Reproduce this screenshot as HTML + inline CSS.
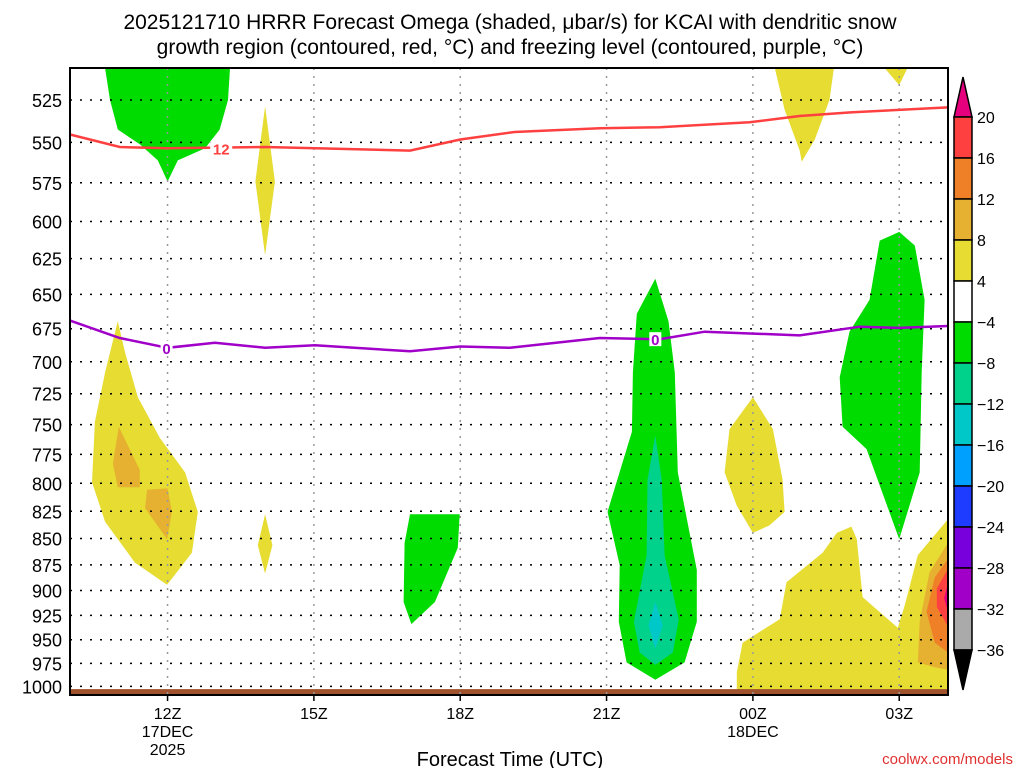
<!DOCTYPE html>
<html><head><meta charset="utf-8"><style>
body{margin:0;background:#fff;}
svg{display:block;font-family:"Liberation Sans","DejaVu Sans",sans-serif;}
</style></head><body>
<svg id="chart" width="1024" height="768" viewBox="0 0 1024 768" xmlns="http://www.w3.org/2000/svg">
<text x="510" y="29" font-size="21" text-anchor="middle" fill="#000">2025121710 HRRR Forecast Omega (shaded, μbar/s) for KCAI with dendritic snow</text>
<text x="510" y="54" font-size="21" text-anchor="middle" fill="#000">growth region (contoured, red, °C) and freezing level (contoured, purple, °C)</text>
<g id="fills"></g>
<g id="grid"></g>
<g id="lines"></g>
<g id="axes"></g>
<g id="cbar"></g>
<text x="510" y="766" font-size="20" text-anchor="middle" fill="#000">Forecast Time (UTC)</text>
<text x="1013" y="764" font-size="15" text-anchor="end" fill="#e03030">coolwx.com/models</text>
</svg>
<script>
const pressureTicks=[525,550,575,600,625,650,675,700,725,750,775,800,825,850,875,900,925,950,975,1000];
const timeTickHours=[2,5,8,11,14,17];
const timeTickLabels=["12Z","15Z","18Z","21Z","00Z","03Z"];
const cbarLabels=["20","16","12","8","4","−4","−8","−12","−16","−20","−24","−28","−32","−36"];
const cbarColors=["#ff4040","#f08028","#e6b030","#e6dc32","#ffffff","#00dc00","#00d28c","#00c8c8","#00a0ff","#1e3cff","#7800dc","#a000c8","#aaaaaa"];
const greenTopLeft=[[0.72,507],[0.82,525],[0.98,542.3],[1.43,551.2],[1.8,561],[2.0,574.2],[2.21,561],[2.77,553.6],[3.07,542.3],[3.24,525],[3.28,507]];
const yellowThin14=[[4.0,528.6],[4.2,574.2],[4.0,622.7],[3.8,574.2]];
const yellowSmall14=[[4.0,827.7],[4.15,856.4],[4.0,883.5],[3.85,856.4]];
const yellowLeft=[[0.98,669.5],[1.13,693],[1.39,727.7],[1.84,761.1],[2.36,790.5],[2.62,825.5],[2.5,863.4],[1.99,894.4],[1.33,872.8],[0.72,834.5],[0.45,799.1],[0.51,747.7],[0.72,708.2]];
const goldLeftA=[[1.0,751.8],[1.43,788.4],[1.43,803.4],[0.98,803.4],[0.88,783]];
const goldLeftB=[[1.58,805.6],[2.0,804.5],[2.09,825.5],[1.99,850.6],[1.54,822.1]];
const green17=[[6.86,854.1],[6.97,827.7],[7.99,827.7],[7.95,858.7],[7.48,911.5],[7.0,933.9],[6.84,911.5]];
const green22=[[12.0,639],[11.62,664],[11.54,708.2],[11.52,755.9],[11.02,825.5],[11.27,875.2],[11.25,931.4],[11.41,974],[12.0,992.7],[12.6,974],[12.85,931.4],[12.85,879.9],[12.46,790.5],[12.4,708.2],[12.27,669.5]];
const teal22=[[12.0,759],[11.84,796.9],[11.82,865.7],[11.56,931.4],[11.68,963.5],[12.0,976.7],[12.36,963.5],[12.48,928.9],[12.19,865.7],[12.13,796.9]];
const cyan22=[[12.0,911.5],[11.86,935.2],[12.0,959.5],[12.15,935.2]];
const yellow00=[[14.0,727.7],[13.52,753.9],[13.42,790.5],[13.67,819.9],[14.0,844.8],[14.34,837.9],[14.65,825.5],[14.61,796.9],[14.41,753.9]];
const green03=[[17.0,606.9],[16.6,612.7],[16.39,654],[15.98,677.2],[15.78,712],[15.84,751.8],[16.33,770.4],[17.0,850.6],[17.42,790.5],[17.46,708.2],[17.52,654],[17.32,616]];
const yellowBottomRight=[[13.67,984.7],[13.79,953.1],[14.55,928.9],[14.69,891.9],[15.43,863.4],[15.72,844.8],[16.02,839],[16.13,850.6],[16.25,906.6],[16.97,937.7],[17.11,915.2],[17.38,865.7],[18,832.2],[18,1006],[13.67,1006]];
const goldRight=[[18,854.1],[17.62,882.3],[17.42,931.4],[17.38,974],[17.73,979.3],[18,982]];
const orangeRight=[[18,869.3],[17.73,887.1],[17.56,921.4],[17.73,953.1],[18,963.5]];
const redRight=[[18,878.7],[17.77,898],[17.77,916.4],[18,936.4]];
const magentaRight=[[18,893.1],[17.92,907.8],[18,921.4]];
const yellowTopRight=[[14.45,506.8],[14.65,530.7],[14.96,555],[15.0,561.8],[15.27,548.3],[15.57,525],[15.66,506.8]];
const yellowTopRight2=[[16.7,506.8],[17.0,516.5],[17.17,506.8]];
const dgzLine=[[0,545.3],[1.02,552.8],[2,553.6],[4,552.8],[6.97,555],[8,548.3],[9.11,543.8],[10.86,541.6],[12.09,540.9],[13.93,538],[14.96,534.3],[16,532.2],[18,529.3]];
const freezingLine=[[0,669],[1.02,681.9],[2,689.3],[2.97,685.5],[4,689.3],[5.02,687.4],[6.97,692],[8,688.3],[9.02,689.3],[10.86,681.9],[12.09,682.8],[13.01,677.2],[14.96,680],[16.19,673.5],[17,674.4],[18,673]];

const X0=70,X1=948,Y0=68,Y1=695;
function xs(h){return X0+h*(X1-X0)/18;}
function ys(p){return 100+910*Math.log(p/525);}
const NS="http://www.w3.org/2000/svg";
function mk(parent,tag,attrs){const e=document.createElementNS(NS,tag);for(const k in attrs)e.setAttribute(k,attrs[k]);parent.appendChild(e);return e;}
function pts(a){return a.map(d=>xs(d[0]).toFixed(1)+","+Math.min(Y1,Math.max(Y0,ys(d[1]))).toFixed(1)).join(" ");}
const fills=document.getElementById('fills');
function poly(arr,color,name){const e=mk(fills,'polygon',{points:pts(arr),fill:color});

}
poly(greenTopLeft,"#00dc00","omega-green-top-left");
poly(yellowThin14,"#e6dc32","omega-yellow-14z-upper");
poly(yellowSmall14,"#e6dc32","omega-yellow-14z-lower");
poly(yellowLeft,"#e6dc32","omega-yellow-left");
poly(goldLeftA,"#e6b030","omega-gold-left-a");
poly(goldLeftB,"#e6b030","omega-gold-left-b");
poly(green17,"#00dc00","omega-green-17z");
poly(green22,"#00dc00","omega-green-22z");
poly(teal22,"#00d28c","omega-teal-22z");
poly(cyan22,"#00c8c8","omega-cyan-22z");
poly(yellow00,"#e6dc32","omega-yellow-00z");
poly(green03,"#00dc00","omega-green-03z");
poly(yellowBottomRight,"#e6dc32","omega-yellow-bottom-right");
poly(goldRight,"#e6b030","omega-gold-right");
poly(orangeRight,"#f08028","omega-orange-right");
poly(redRight,"#ff4040","omega-red-right");
poly(magentaRight,"#e6007e","omega-magenta-right");
poly(yellowTopRight,"#e6dc32","omega-yellow-top-right");
poly(yellowTopRight2,"#e6dc32","omega-yellow-top-right-small");
const ground=mk(fills,'rect',{x:X0,y:ys(1003),width:X1-X0,height:Y1-ys(1003),fill:"#a0522d"});



const grid=document.getElementById('grid');
pressureTicks.forEach(p=>{const l=mk(grid,'line',{x1:X0,x2:X1,y1:ys(p),y2:ys(p),stroke:"#000","stroke-width":1.5,"stroke-dasharray":"2,8"});

});
timeTickHours.forEach(h=>{const l=mk(grid,'line',{x1:xs(h),x2:xs(h),y1:Y0,y2:Y1,stroke:"#999","stroke-width":1.5,"stroke-dasharray":"2,6"});

});

const lines=document.getElementById('lines');
const dgz=mk(lines,'polyline',{points:pts(dgzLine),fill:"none",stroke:"#ff4040","stroke-width":2.5});


const frz=mk(lines,'polyline',{points:pts(freezingLine),fill:"none",stroke:"#a000c8","stroke-width":2.5});


function clabel(h,p,t,c,name){mk(lines,'rect',{x:xs(h)-(t.length*5+1),y:ys(p)-7,width:t.length*10+2,height:14,fill:"#fff"});
const e=mk(lines,'text',{x:xs(h),y:ys(p)+6,"font-size":15,"font-weight":"bold","text-anchor":"middle",fill:c});e.textContent=t;

}
clabel(3.1,553.6,"12","#ff4040","dgz-contour-label");
clabel(1.98,689.3,"0","#a000c8","freezing-contour-label-1");
clabel(12.0,682.8,"0","#a000c8","freezing-contour-label-2");

const axes=document.getElementById('axes');
mk(axes,'rect',{x:X0,y:Y0,width:X1-X0,height:Y1-Y0,fill:"none",stroke:"#000","stroke-width":2});
pressureTicks.forEach(p=>{const t=mk(axes,'text',{x:62,y:ys(p)+7,"font-size":18,"text-anchor":"end",fill:"#000"});t.textContent=p;

});
timeTickHours.forEach((h,i)=>{mk(axes,'line',{x1:xs(h),x2:xs(h),y1:Y1,y2:Y1+6,stroke:"#000","stroke-width":1.5});
const t=mk(axes,'text',{x:xs(h),y:719,"font-size":16,"text-anchor":"middle",fill:"#000"});t.textContent=timeTickLabels[i];

});
function sub(h,y,txt,name){const t=mk(axes,'text',{x:xs(h),y:y,"font-size":16,"text-anchor":"middle",fill:"#000"});t.textContent=txt;

}
sub(2,737,"17DEC","x-date-label-17dec");
sub(2,755,"2025","x-year-label");
sub(14,737,"18DEC","x-date-label-18dec");

const cb=document.getElementById('cbar');
const CX=954,CW=18,CT=117,CH=41;
mk(cb,'polygon',{points:`${CX},${CT} ${CX+CW/2},${CT-40} ${CX+CW},${CT}`,fill:"#e6007e",stroke:"#000","stroke-width":1.5});
cbarColors.forEach((c,i)=>{const r=mk(cb,'rect',{x:CX,y:CT+i*CH,width:CW,height:CH,fill:c,stroke:"#000","stroke-width":1.5});

});
const yb=CT+cbarColors.length*CH;
mk(cb,'polygon',{points:`${CX},${yb} ${CX+CW/2},${yb+40} ${CX+CW},${yb}`,fill:"#000",stroke:"#000","stroke-width":1.5});
cbarLabels.forEach((l,i)=>{const t=mk(cb,'text',{x:977,y:CT+i*CH+6,"font-size":16,fill:"#000"});t.textContent=l;

});
</script>
</body></html>
